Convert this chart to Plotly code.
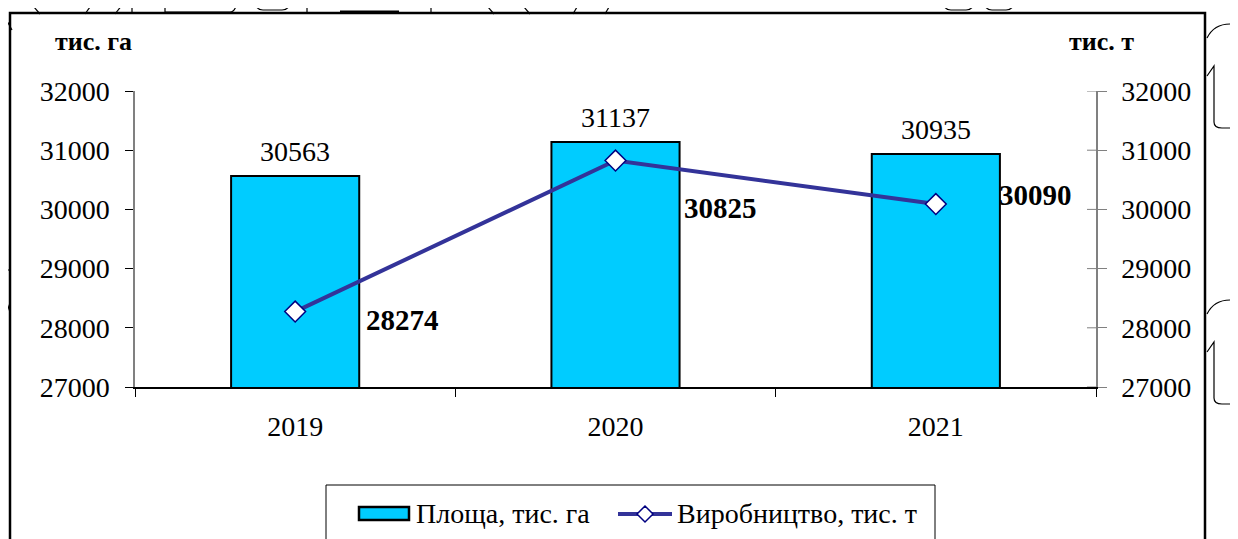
import plotly.graph_objects as go

years = ["2019", "2020", "2021"]
area = [30563, 31137, 30935]          # Площа, тис. га
production = [28274, 30825, 30090]    # Виробництво, тис. т
y_ticks = [27000, 28000, 29000, 30000, 31000, 32000]
series_names = ["Площа, тис. га", "Виробництво, тис. т"]
unit_left = "тис. га"
unit_right = "тис. т"

# label offsets (px) for production labels
lab_dx = [107, 105, 100]
lab_dy = [-8, -47, 9]

FONT = "Liberation Serif, Times New Roman, serif"
BAR_COLOR = "#00CCFF"
LINE_COLOR = "#333399"

# page-pixel -> paper coordinate helpers (plot area: x 135..1096, y 91..387)
def fx(p):
    return (p - 135) / 961

def fy(p):
    return (387 - p) / 296

fig = go.Figure()
fig.add_trace(go.Bar(
    x=years, y=area, name=series_names[0],
    marker=dict(color=BAR_COLOR, line=dict(color="black", width=2)),
    width=0.4, showlegend=False,
))
fig.add_trace(go.Scatter(
    x=years, y=production, name=series_names[1], yaxis="y2",
    mode="lines+markers",
    line=dict(color=LINE_COLOR, width=4),
    marker=dict(symbol="diamond", size=16, color="white",
                line=dict(color="#000080", width=1.5)),
    cliponaxis=False, showlegend=False,
))

for i, v in enumerate(area):
    fig.add_annotation(x=i, y=v, xref="x", yref="y", text=str(v), showarrow=False,
                       yanchor="bottom", yshift=7,
                       font=dict(family=FONT, size=28, color="black"))

for i, (v, dx, dy) in enumerate(zip(production, lab_dx, lab_dy)):
    fig.add_annotation(x=i, y=v, xref="x", yref="y2", text=f"<b>{v}</b>", showarrow=False,
                       xshift=dx, yshift=dy,
                       font=dict(family=FONT, size=29, color="black"))

fig.add_annotation(xref="paper", yref="paper", x=fx(134), y=fy(42), text=f"<b>{unit_left}</b>",
                   showarrow=False, xanchor="right", yanchor="middle",
                   font=dict(family=FONT, size=26, color="black"))
fig.add_annotation(xref="paper", yref="paper", x=fx(1101), y=fy(42), text=f"<b>{unit_right}</b>",
                   showarrow=False, xanchor="center", yanchor="middle",
                   font=dict(family=FONT, size=26, color="black"))

# inner halves of the cross ticks on the right axis
for t in y_ticks:
    fig.add_shape(type="line", xref="paper", yref="y2", x0=fx(1087), x1=1, y0=t, y1=t,
                  line=dict(color="#808080", width=1))

# outer frame
fig.add_shape(type="rect", xref="paper", yref="paper",
              x0=fx(10), x1=fx(1205), y0=fy(600), y1=fy(13),
              line=dict(color="black", width=2.5), fillcolor="rgba(0,0,0,0)", layer="below")

# custom legend
fig.add_shape(type="rect", xref="paper", yref="paper",
              x0=fx(326), x1=fx(935), y0=fy(600), y1=fy(485),
              line=dict(color="black", width=1), fillcolor="white", layer="below")
fig.add_shape(type="rect", xref="paper", yref="paper",
              x0=fx(359), x1=fx(409), y0=fy(520), y1=fy(507),
              line=dict(color="black", width=2.5), fillcolor=BAR_COLOR)
fig.add_annotation(xref="paper", yref="paper", x=fx(414), y=fy(514), text=series_names[0],
                   showarrow=False, xanchor="left", yanchor="middle",
                   font=dict(family=FONT, size=28, color="black"))
fig.add_shape(type="line", xref="paper", yref="paper",
              x0=fx(618), x1=fx(672), y0=fy(514), y1=fy(514),
              line=dict(color=LINE_COLOR, width=4))
cx, cy, r = 645, 514, 8
fig.add_shape(type="path", xref="paper", yref="paper",
              path=(f"M {fx(cx - r)},{fy(cy)} L {fx(cx)},{fy(cy - r)} "
                    f"L {fx(cx + r)},{fy(cy)} L {fx(cx)},{fy(cy + r)} Z"),
              line=dict(color="#000080", width=1.5), fillcolor="white")
fig.add_annotation(xref="paper", yref="paper", x=fx(675), y=fy(514), text=series_names[1],
                   showarrow=False, xanchor="left", yanchor="middle",
                   font=dict(family=FONT, size=28, color="black"))

# page decorations outside the frame (scanned page fragments)
deco = dict(color="black", width=1.2)
for top in (24, 300):
    fig.add_shape(type="path", xref="paper", yref="paper",
                  path=(f"M {fx(1207)},{fy(top + 14)} Q {fx(1214)},{fy(top)} {fx(1230)},{fy(top)} "
                        f"L {fx(1240)},{fy(top)}"),
                  line=deco)
    fig.add_shape(type="path", xref="paper", yref="paper",
                  path=(f"M {fx(1207)},{fy(top + 52)} L {fx(1214)},{fy(top + 42)} "
                        f"L {fx(1214)},{fy(top + 98)} Q {fx(1214)},{fy(top + 104)} {fx(1222)},{fy(top + 104)} "
                        f"L {fx(1240)},{fy(top + 104)}"),
                  line=deco)

top_segments = [((0, 8), (12, 30)), ((28, 0), (40, 14)), ((85, 14), (95, 0)),
                ((115, 14), (126, 0)), ((132, 0), (132, 13)), ((307, 0), (307, 13)),
                ((431, 0), (431, 13)), ((482, 0), (494, 14)), ((518, 0), (530, 14)),
                ((573, 14), (581, 0)), ((605, 14), (613, 0)),
                ((0, 270), (10, 270)), ((0, 282), (10, 312))]
for (x0, y0), (x1, y1) in top_segments:
    fig.add_shape(type="line", xref="paper", yref="paper",
                  x0=fx(x0), y0=fy(y0), x1=fx(x1), y1=fy(y1), line=deco)
fig.add_shape(type="line", xref="paper", yref="paper",
              x0=fx(340), y0=fy(12), x1=fx(399), y1=fy(12), line=dict(color="black", width=3))
fig.add_shape(type="path", xref="paper", yref="paper",
              path=(f"M {fx(165)},{fy(0)} L {fx(165)},{fy(12)} L {fx(230)},{fy(12)} "
                    f"Q {fx(236)},{fy(12)} {fx(237)},{fy(0)}"),
              line=deco)
for xa, xb in ((255, 290), (943, 974), (984, 1014)):
    fig.add_shape(type="path", xref="paper", yref="paper",
                  path=(f"M {fx(xa)},{fy(0)} Q {fx(xa)},{fy(10)} {fx(xa + 8)},{fy(10)} "
                        f"L {fx(xb - 8)},{fy(10)} Q {fx(xb)},{fy(10)} {fx(xb)},{fy(0)}"),
                  line=deco)

fig.update_layout(
    width=1238, height=539,
    margin=dict(l=127, r=150, t=83, b=160),
    paper_bgcolor="white", plot_bgcolor="white",
    font=dict(family=FONT, size=28, color="black"),
    showlegend=False,
    xaxis=dict(type="category", range=[-0.5, 2.5], autorange=False,
               showline=True, linecolor="black", linewidth=1.5,
               ticks="outside", ticklen=8, tickcolor="black", tickson="boundaries",
               showgrid=False, tickfont=dict(family=FONT, size=28), ticklabelstandoff=14,
               tickangle=0),
    yaxis=dict(range=[27000, 32000], tickvals=y_ticks, ticktext=[str(t) for t in y_ticks],
               showgrid=False, zeroline=False,
               showline=True, linecolor="#808080", linewidth=1.5,
               ticks="outside", ticklen=8, tickcolor="black",
               tickfont=dict(family=FONT, size=28), ticklabelstandoff=10),
    yaxis2=dict(range=[27000, 32000], tickvals=y_ticks, ticktext=[str(t) for t in y_ticks],
                overlaying="y", side="right",
                showgrid=False, zeroline=False, showline=True, linecolor="#808080",
                linewidth=1.5, ticks="outside", ticklen=9, tickcolor="#808080",
                tickfont=dict(family=FONT, size=28), ticklabelstandoff=9),
    bargap=0.6,
)

fig.write_html("out.html")
